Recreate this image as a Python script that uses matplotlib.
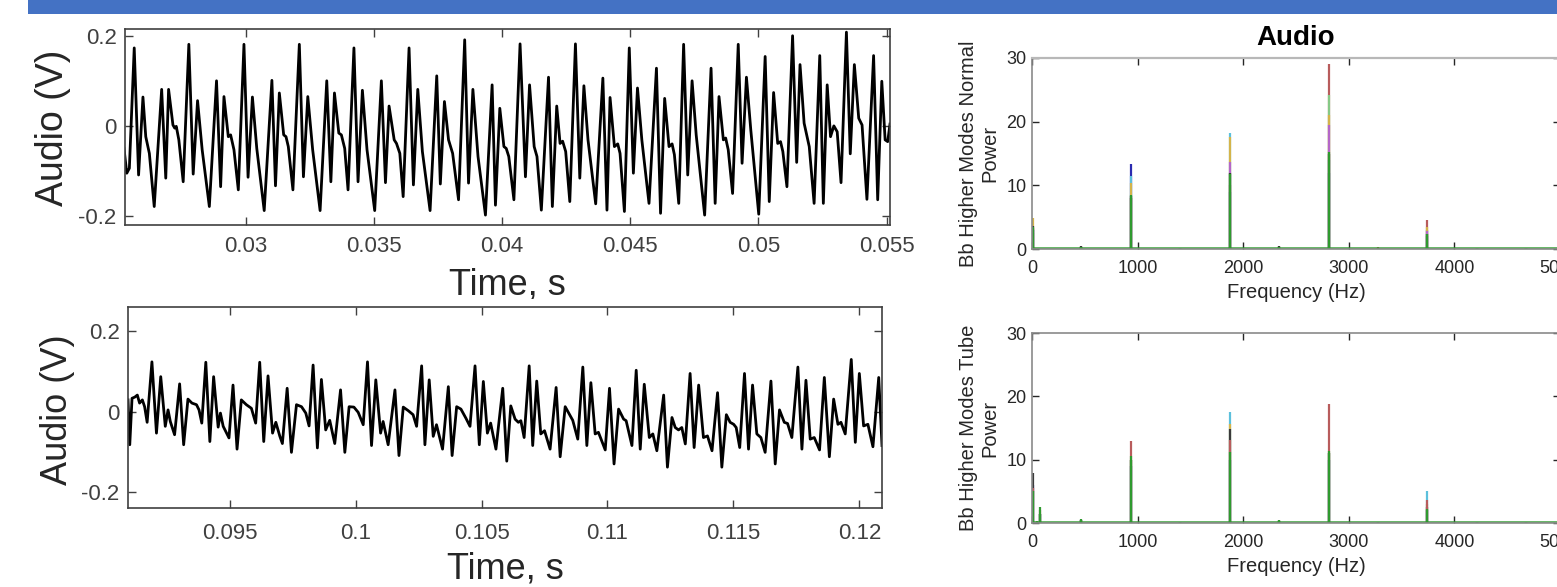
import numpy as np
import matplotlib.pyplot as plt
from matplotlib.patches import Rectangle

plt.rcParams['font.family'] = ['Liberation Sans', 'DejaVu Sans']

### Data

# upper waveform: time (ms) / audio (V) at turning points
top_t_ms = [25.25, 25.36, 25.46, 25.65, 25.82, 25.99, 26.10, 26.24, 26.43, 26.72,
            26.88, 26.99, 27.16, 27.23, 27.29, 27.39, 27.56, 27.78, 27.95, 28.12,
            28.30, 28.58, 28.86, 29.02, 29.15, 29.32, 29.41, 29.54, 29.71, 29.93,
            30.09, 30.26, 30.43, 30.72, 31.02, 31.16, 31.31, 31.48, 31.57, 31.66,
            31.84, 32.09, 32.25, 32.42, 32.61, 32.90, 33.16, 33.32, 33.46, 33.63,
            33.73, 33.86, 33.99, 34.22, 34.38, 34.55, 34.73, 35.03, 35.29, 35.45,
            35.59, 35.79, 35.88, 36.01, 36.14, 36.37, 36.54, 36.71, 36.89, 37.19,
            37.45, 37.59, 37.75, 37.91, 38.01, 38.07, 38.30, 38.54, 38.69, 38.86,
            39.06, 39.35, 39.61, 39.74, 39.91, 40.07, 40.16, 40.26, 40.46, 40.70,
            40.91, 41.07, 41.25, 41.36, 41.53, 41.81, 41.96, 42.13, 42.26, 42.36,
            42.48, 42.64, 42.86, 43.03, 43.19, 43.35, 43.65, 43.93, 44.09, 44.21,
            44.38, 44.51, 44.60, 44.77, 44.96, 45.12, 45.28, 45.45, 45.73, 46.02,
            46.18, 46.34, 46.51, 46.63, 46.72, 46.89, 47.08, 47.24, 47.41, 47.57,
            47.90, 48.15, 48.31, 48.46, 48.63, 48.72, 48.82, 48.99, 49.21, 49.36,
            49.53, 49.70, 50.01, 50.26, 50.42, 50.59, 50.75, 50.86, 50.95, 51.11,
            51.33, 51.49, 51.62, 51.78, 51.98, 52.17, 52.39, 52.53, 52.68, 52.81,
            52.94, 53.07, 53.22, 53.43, 53.58, 53.74, 53.91, 54.04, 54.23, 54.49,
            54.65, 54.81, 54.94, 55.04, 55.13]
top_v = [-0.050, -0.105, -0.094, 0.173, -0.109, 0.064, -0.024, -0.061, -0.179, 0.081,
         -0.116, 0.081, 0.002, -0.005, -0.001, -0.031, -0.124, 0.181, -0.107, 0.056,
         -0.053, -0.179, 0.100, -0.135, 0.065, -0.024, -0.020, -0.053, -0.142, 0.181,
         -0.114, 0.064, -0.050, -0.188, 0.101, -0.133, 0.073, -0.020, -0.024, -0.046,
         -0.142, 0.181, -0.113, 0.065, -0.053, -0.188, 0.100, -0.124, 0.073, -0.016,
         -0.020, -0.050, -0.142, 0.173, -0.124, 0.079, -0.053, -0.188, 0.100, -0.126,
         0.044, -0.031, -0.039, -0.061, -0.157, 0.173, -0.131, 0.081, -0.057, -0.188,
         0.111, -0.129, 0.054, -0.031, -0.050, -0.061, -0.164, 0.191, -0.127, 0.081,
         -0.068, -0.198, 0.091, -0.176, 0.039, -0.046, -0.050, -0.068, -0.164, 0.182,
         -0.113, 0.091, -0.046, -0.068, -0.187, 0.108, -0.179, 0.044, -0.039, -0.034,
         -0.057, -0.168, 0.182, -0.116, 0.089, -0.031, -0.173, 0.106, -0.187, 0.063,
         -0.046, -0.040, -0.061, -0.190, 0.173, -0.105, 0.084, -0.031, -0.172, 0.128,
         -0.194, 0.061, -0.046, -0.040, -0.064, -0.172, 0.181, -0.109, 0.100, -0.020,
         -0.198, 0.128, -0.172, 0.065, -0.031, -0.027, -0.053, -0.150, 0.181, -0.083,
         0.108, -0.009, -0.196, 0.154, -0.168, 0.074, -0.039, -0.035, -0.057, -0.135,
         0.200, -0.081, 0.136, 0.006, -0.046, -0.172, 0.156, -0.172, 0.091, -0.024,
         0.000, -0.013, -0.126, 0.208, -0.062, 0.136, 0.017, 0.002, -0.163, 0.156,
         -0.164, 0.099, -0.031, -0.035, 0.004]

# lower waveform
bot_t_ms = [90.96, 91.03, 91.12, 91.23, 91.33, 91.42, 91.53, 91.62, 91.72, 91.91,
            92.09, 92.26, 92.44, 92.55, 92.64, 92.81, 93.01, 93.17, 93.34, 93.50,
            93.68, 93.78, 93.89, 94.05, 94.21, 94.36, 94.54, 94.63, 94.74, 94.97,
            95.13, 95.29, 95.46, 95.66, 95.86, 96.03, 96.19, 96.35, 96.52, 96.70,
            96.83, 96.99, 97.09, 97.28, 97.45, 97.65, 97.85, 98.02, 98.15, 98.31,
            98.48, 98.64, 98.81, 98.97, 99.17, 99.40, 99.57, 99.74, 99.93, 100.10,
            100.30, 100.47, 100.63, 100.80, 100.99, 101.09, 101.29, 101.56, 101.72, 101.89,
            102.09, 102.28, 102.42, 102.62, 102.75, 102.92, 103.08, 103.21, 103.45, 103.68,
            103.83, 104.01, 104.18, 104.38, 104.54, 104.74, 104.91, 105.07, 105.23, 105.36,
            105.57, 105.84, 106.00, 106.16, 106.33, 106.46, 106.56, 106.69, 106.89, 107.03,
            107.19, 107.35, 107.50, 107.72, 107.96, 108.12, 108.32, 108.52, 108.62, 108.82,
            109.02, 109.18, 109.34, 109.51, 109.64, 109.91, 110.08, 110.26, 110.44, 110.64,
            110.74, 110.97, 111.14, 111.30, 111.46, 111.66, 111.80, 111.96, 112.23, 112.38,
            112.56, 112.69, 112.82, 112.95, 113.09, 113.28, 113.44, 113.62, 113.81, 113.97,
            114.15, 114.37, 114.54, 114.72, 114.87, 115.01, 115.11, 115.25, 115.44, 115.60,
            115.76, 115.93, 116.09, 116.26, 116.49, 116.66, 116.83, 117.02, 117.15, 117.32,
            117.56, 117.72, 117.88, 118.05, 118.21, 118.42, 118.61, 118.81, 118.98, 119.15,
            119.27, 119.44, 119.68, 119.84, 120.00, 120.17, 120.34, 120.54, 120.77, 120.90]
bot_v = [0.029, -0.083, 0.033, 0.036, 0.041, 0.021, 0.029, 0.012, -0.027, 0.124,
         -0.054, 0.087, -0.037, 0.004, -0.025, -0.058, 0.069, -0.083, 0.031, 0.021,
         0.017, 0.004, -0.029, 0.123, -0.075, 0.087, -0.039, -0.004, -0.037, -0.066,
         0.066, -0.094, 0.029, 0.017, 0.008, -0.029, 0.123, -0.075, 0.089, -0.054,
         -0.027, -0.062, -0.080, 0.058, -0.102, 0.017, 0.012, -0.004, -0.036, 0.116,
         -0.091, 0.080, -0.046, -0.022, -0.080, 0.054, -0.102, 0.012, 0.011, -0.002,
         -0.033, 0.124, -0.085, 0.079, -0.054, -0.025, -0.083, 0.054, -0.110, 0.011,
         0.002, -0.008, -0.037, 0.114, -0.083, 0.079, -0.062, -0.033, -0.094, 0.062,
         -0.110, 0.012, 0.006, -0.017, -0.037, 0.114, -0.083, 0.075, -0.054, -0.029,
         -0.094, 0.058, -0.124, 0.014, -0.019, -0.027, -0.023, -0.065, 0.114, -0.085,
         0.076, -0.056, -0.048, -0.094, 0.060, -0.113, 0.012, -0.011, -0.022, -0.069,
         0.111, -0.085, 0.072, -0.056, -0.052, -0.096, 0.058, -0.131, 0.006, -0.019,
         -0.023, -0.085, 0.103, -0.094, 0.068, -0.065, -0.056, -0.098, 0.041, -0.139,
         -0.015, -0.040, -0.046, -0.040, -0.081, 0.095, -0.090, 0.066, -0.065, -0.061,
         -0.098, 0.047, -0.139, -0.008, -0.027, -0.032, -0.040, -0.090, 0.095, -0.094,
         0.066, -0.056, -0.065, -0.102, 0.076, -0.131, 0.004, -0.027, -0.030, -0.065,
         0.111, -0.094, 0.078, -0.069, -0.065, -0.096, 0.085, -0.113, 0.031, -0.032,
         -0.027, -0.056, 0.130, -0.077, 0.095, -0.036, -0.032, -0.088, 0.085, -0.085]

top_xticks = [0.03, 0.035, 0.04, 0.045, 0.05, 0.055]
bot_xticks = [0.095, 0.1, 0.105, 0.11, 0.115, 0.12]
wave_yticks = [-0.2, 0, 0.2]

# spectra: peak frequencies (Hz) and power of each overlaid trace
freq_normal = [5, 468, 936, 1404, 1872, 2340, 2808, 3276, 3744, 4212, 4680]
normal_blue = [3.0, 0.3, 13.4, 0.1, 9.0, 0.2, 12.0, 0.1, 2.0, 0.1, 0.1]
normal_red = [3.3, 0.5, 8.0, 0.2, 10.0, 0.5, 29.0, 0.3, 4.6, 0.2, 0.2]
normal_cyan = [3.0, 0.3, 11.4, 0.1, 18.2, 0.3, 14.0, 0.1, 3.0, 0.1, 0.1]
normal_lgreen = [2.5, 0.3, 8.0, 0.1, 12.0, 0.3, 24.2, 0.1, 3.0, 0.1, 0.1]
normal_yellow = [4.8, 0.3, 10.3, 0.1, 17.6, 0.3, 21.0, 0.1, 3.5, 0.1, 0.1]
normal_purple = [3.2, 0.3, 8.0, 0.1, 13.7, 0.3, 19.5, 0.1, 2.8, 0.1, 0.1]
normal_dark = [3.6, 0.4, 8.3, 0.1, 11.9, 0.4, 15.0, 0.2, 2.4, 0.1, 0.1]
normal_green = [3.4, 0.3, 8.5, 0.1, 11.8, 0.3, 15.3, 0.2, 2.4, 0.1, 0.1]

freq_tube = [5, 44, 76, 468, 936, 1404, 1872, 2340, 2808, 3276, 3744, 4212, 4680]
tube_blue = [6.0, 0.2, 1.5, 0.4, 9.0, 0.1, 10.0, 0.3, 10.0, 0.1, 2.0, 0.1, 0.1]
tube_cyan = [5.0, 0.2, 1.5, 0.4, 10.0, 0.1, 17.5, 0.3, 11.0, 0.1, 5.0, 0.1, 0.1]
tube_yellow = [5.0, 0.2, 1.5, 0.4, 10.0, 0.1, 15.7, 0.3, 11.0, 0.1, 3.0, 0.1, 0.1]
tube_dark = [7.9, 0.2, 1.5, 0.4, 10.0, 0.1, 14.8, 0.3, 11.0, 0.1, 2.5, 0.1, 0.1]
tube_red = [5.5, 0.3, 2.0, 0.5, 13.0, 0.2, 13.1, 0.5, 18.8, 0.2, 3.6, 0.2, 0.2]
tube_green = [5.0, 0.3, 2.6, 0.6, 10.6, 0.1, 11.2, 0.5, 11.4, 0.2, 2.2, 0.1, 0.1]

spec_xticks = [0, 1000, 2000, 3000, 4000, 5000]
spec_yticks = [0, 10, 20, 30]

C_BLUE, C_RED, C_CYAN = '#2b2bb0', '#b85c5c', '#5cc0dc'
C_LGREEN, C_YELLOW, C_PURPLE = '#86c986', '#d4b44a', '#b466c8'
C_DARK, C_GREEN = '#3a3a3a', '#2f9a2f'

### Figure
W, H = 1557, 587
fig = plt.figure(figsize=(W / 100, H / 100), dpi=100)


def px_axes(x0, y0, x1, y1):
    # axes box given in pixel coords of the picture (origin top-left)
    return fig.add_axes([x0 / W, 1 - y1 / H, (x1 - x0) / W, (y1 - y0) / H])


def style_wave(ax, t_ms, v, xticks, xlim, ylim, xpad):
    ax.plot(np.array(t_ms) / 1000, v, color='black', lw=2.0)
    ax.set_xlim(xlim)
    ax.set_ylim(ylim)
    ax.set_xticks(xticks)
    ax.set_xticklabels([f'{x:g}' for x in xticks])
    ax.set_yticks(wave_yticks)
    ax.set_yticklabels([f'{y:g}' for y in wave_yticks])
    ax.tick_params(direction='in', top=True, right=True, length=6, width=1,
                   colors='#404040', labelsize=16)
    ax.tick_params(axis='x', pad=xpad)
    ax.tick_params(axis='y', pad=6)
    for s in ax.spines.values():
        s.set_color('#404040')
        s.set_linewidth(1.2)


def style_spec(ax, freqs, traces, ylabel):
    for heights, col in traces:
        ax.vlines(freqs, 0, heights, color=col, lw=1.6)
    ax.axhline(0.15, color=C_GREEN, lw=2, alpha=0.8)
    ax.set_xlim(0, 5000)
    ax.set_ylim(0, 30)
    ax.set_xticks(spec_xticks)
    ax.set_yticks(spec_yticks)
    ax.tick_params(direction='in', top=True, right=True, length=5, width=1,
                   colors='#262626', labelsize=13)
    ax.tick_params(axis='x', pad=8)
    ax.tick_params(axis='y', pad=4)
    for s in ax.spines.values():
        s.set_color('#8a8a8a')
        s.set_linewidth(1.2)
    ax.text(0.5, -0.23, 'Frequency (Hz)', transform=ax.transAxes,
            ha='center', va='center', fontsize=14.5, color='#262626')
    ax.text(-0.10, 0.5, ylabel, transform=ax.transAxes, rotation=90,
            ha='center', va='center', fontsize=14.5, color='#262626',
            linespacing=1.1)


# top-left waveform
ax1 = px_axes(125, 29, 890, 225)
style_wave(ax1, top_t_ms, top_v, top_xticks, (0.02529, 0.05513), (-0.22, 0.215), 8)
ax1.text(-0.094, 0.497, 'Audio (V)', transform=ax1.transAxes, rotation=90,
         ha='center', va='center', fontsize=27, color='#262626')
ax1.text(0.5, -0.306, 'Time, s', transform=ax1.transAxes,
         ha='center', va='center', fontsize=26, color='#262626')

# white strip that hides the bottom of the upper "Time, s"
fig.add_artist(Rectangle((0, 0), 920 / W, (H - 299) / H, transform=fig.transFigure,
                         facecolor='white', edgecolor='none', zorder=1))

# bottom-left waveform
ax2 = px_axes(128, 307, 882, 508)
ax2.set_zorder(2)
style_wave(ax2, bot_t_ms, bot_v, bot_xticks, (0.09096, 0.1209), (-0.241, 0.261), 11)
ax2.text(-0.093, 0.487, 'Audio (V)', transform=ax2.transAxes, rotation=90,
         ha='center', va='center', fontsize=26, color='#262626')
ax2.text(0.5, -0.303, 'Time, s', transform=ax2.transAxes,
         ha='center', va='center', fontsize=26, color='#262626')

# spectra
ax3 = px_axes(1032, 58, 1560, 249)
style_spec(ax3, freq_normal,
           [(normal_blue, C_BLUE), (normal_red, C_RED), (normal_cyan, C_CYAN),
            (normal_lgreen, C_LGREEN), (normal_yellow, C_YELLOW),
            (normal_purple, C_PURPLE), (normal_dark, C_DARK), (normal_green, C_GREEN)],
           'Bb Higher Modes Normal\nPower')
ax3.spines['top'].set_color('#b8b8b8')
ax3.spines['top'].set_linewidth(1.6)
ax3.text(0.5, 1.107, 'Audio', transform=ax3.transAxes, ha='center', va='center',
         fontsize=20, fontweight='bold', color='black')

ax4 = px_axes(1032, 333, 1560, 523)
style_spec(ax4, freq_tube,
           [(tube_blue, C_BLUE), (tube_cyan, C_CYAN), (tube_yellow, C_YELLOW),
            (tube_dark, C_DARK), (tube_red, C_RED), (tube_green, C_GREEN)],
           'Bb Higher Modes Tube\nPower')

# blue header bar
fig.add_artist(Rectangle((28 / W, 1 - 14 / H), 1, 14 / H, transform=fig.transFigure,
                         facecolor='#4472c4', edgecolor='none', zorder=5))

fig.savefig('out.png', dpi=100)
